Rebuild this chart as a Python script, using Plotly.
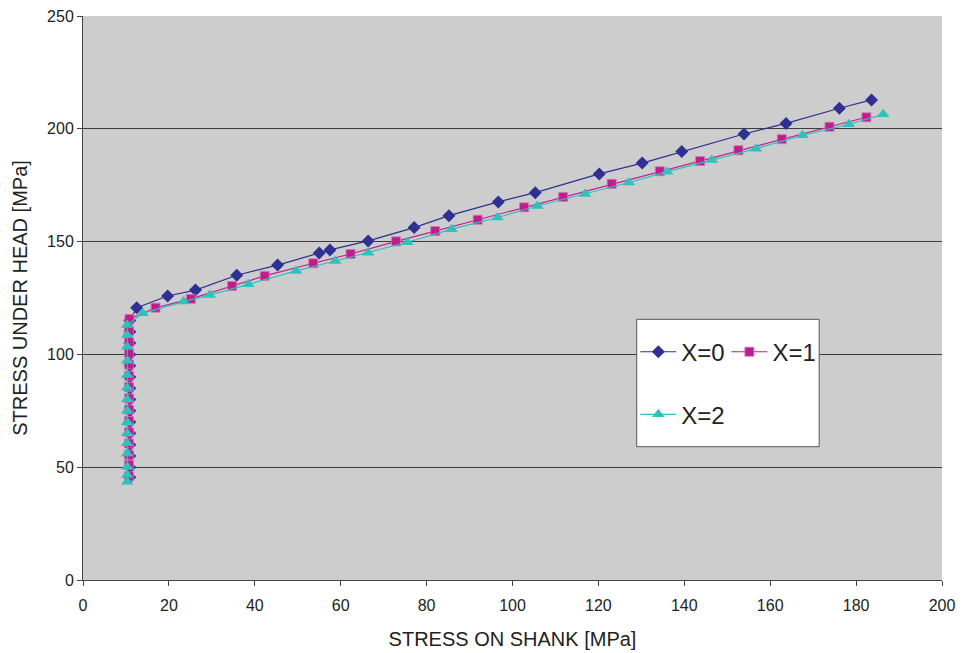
import plotly.graph_objects as go

# ---- data ----
x0_shank = [10.9, 10.9, 10.9, 10.9, 10.9, 10.9, 10.9, 10.9, 10.9, 10.9, 10.9, 10.9, 10.9, 10.9, 10.9,
            12.5, 19.7, 26.2, 35.8, 45.3, 55.0, 57.5, 66.4, 77.1, 85.2, 96.7, 105.3, 120.2,
            130.2, 139.4, 153.9, 163.7, 176.1, 183.6]
x0_head = [45.5, 50.0, 55.0, 60.0, 65.0, 70.0, 75.0, 80.0, 85.0, 90.0, 95.0, 100.0, 105.0, 110.0, 115.0,
           120.7, 125.9, 128.5, 135.1, 139.6, 145.0, 146.3, 150.3, 156.2, 161.5, 167.6, 171.7, 180.0,
           184.8, 189.9, 197.7, 202.4, 209.1, 212.8]

x1_shank = [10.7, 10.7, 10.7, 10.7, 10.7, 10.7, 10.7, 10.7, 10.7, 10.7, 10.7, 10.7, 10.7, 10.7, 10.8,
            16.9, 25.1, 34.7, 42.3, 53.6, 62.3, 72.9, 82.0, 91.9, 102.7, 111.8, 123.1,
            134.3, 143.7, 152.6, 162.7, 173.8, 182.4]
x1_head = [46.0, 51.0, 55.5, 60.5, 65.5, 70.5, 75.5, 80.5, 85.5, 90.5, 95.5, 100.5, 105.5, 110.5, 115.7,
           120.7, 124.6, 130.3, 134.8, 140.4, 144.5, 150.1, 154.7, 159.7, 165.2, 169.8, 175.6,
           181.2, 185.7, 190.5, 195.4, 200.9, 205.1]

x2_shank = [10.3, 10.3, 10.3, 10.3, 10.3, 10.3, 10.3, 10.3, 10.3, 10.3, 10.3, 10.3, 10.3, 10.3, 10.3,
            13.9, 23.4, 29.5, 38.5, 49.6, 58.7, 66.4, 75.5, 85.8, 96.5, 105.8, 116.9, 127.1,
            136.0, 146.4, 156.7, 167.5, 178.3, 186.3]
x2_head = [43.6, 46.5, 50.2, 56.1, 60.6, 65.0, 69.9, 75.0, 80.1, 85.2, 90.9, 97.2, 103.4, 108.6, 113.0,
           118.2, 123.4, 126.3, 131.1, 137.0, 141.4, 145.1, 149.7, 155.5, 160.7, 165.8, 171.1, 176.2,
           181.0, 186.2, 191.2, 197.1, 202.0, 206.4]

series_names = ["X=0", "X=1", "X=2"]
x_ticks = [0, 20, 40, 60, 80, 100, 120, 140, 160, 180, 200]
y_ticks = [0, 50, 100, 150, 200, 250]

blue = "#2E3192"
magenta = "#BE1E8C"
cyan = "#2FC1BC"

fig = go.Figure()
fig.add_trace(go.Scatter(x=x0_shank, y=x0_head, name=series_names[0], mode="lines+markers",
                         line=dict(color=blue, width=1.2), showlegend=True,
                         marker=dict(symbol="diamond", size=10, color=blue), legend="legend"))
fig.add_trace(go.Scatter(x=x1_shank, y=x1_head, name=series_names[1], mode="lines+markers",
                         line=dict(color=magenta, width=1.2), showlegend=True,
                         marker=dict(symbol="square", size=9, color=magenta,
                                     line=dict(color="#D873B6", width=0.8)), legend="legend2"))
fig.add_trace(go.Scatter(x=x2_shank, y=x2_head, name=series_names[2], mode="lines+markers",
                         line=dict(color=cyan, width=1.2), showlegend=True,
                         marker=dict(symbol="triangle-up", size=11, color=cyan), legend="legend3"))

font_family = "Liberation Sans, Arial, sans-serif"
leg_common = dict(orientation="h", xanchor="left", yanchor="middle", bgcolor="rgba(0,0,0,0)",
                  borderwidth=0, font=dict(size=24, color="#222222"), itemwidth=36, visible=True)
fig.update_layout(
    width=965, height=653,
    showlegend=True,
    margin=dict(l=75, r=31, t=8, b=81, autoexpand=False),
    paper_bgcolor="white",
    plot_bgcolor="#CDCDCD",
    font=dict(family=font_family, size=16, color="#222222"),
    xaxis=dict(range=[0, 200], tickvals=x_ticks, showgrid=False, zeroline=False, automargin=False,
               showline=True, linecolor="#444444", linewidth=1, ticklabeloverflow="allow",
               ticks="outside", ticklen=5, tickcolor="#444444", ticklabelstandoff=6,
               title=dict(text="STRESS ON SHANK [MPa]", font=dict(size=20), standoff=18)),
    yaxis=dict(range=[0, 250], tickvals=y_ticks, showgrid=True, gridcolor="#3C3C3C", gridwidth=1,
               zeroline=False, showline=True, linecolor="#444444", linewidth=1, automargin=False,
               ticks="outside", ticklen=5, tickcolor="#444444", ticklabeloverflow="allow",
               title=dict(text="STRESS UNDER HEAD [MPa]", font=dict(size=20), standoff=14)),
    legend=dict(x=0.643, y=0.404, **leg_common),
    legend2=dict(x=0.749, y=0.404, **leg_common),
    legend3=dict(x=0.643, y=0.293, **leg_common),
    shapes=[dict(type="rect", xref="paper", yref="paper", x0=0.6446, x1=0.857, y0=0.2363, y1=0.4622,
                 fillcolor="white", line=dict(color="#555555", width=1), layer="above")],
)

fig.write_html("out.html")
